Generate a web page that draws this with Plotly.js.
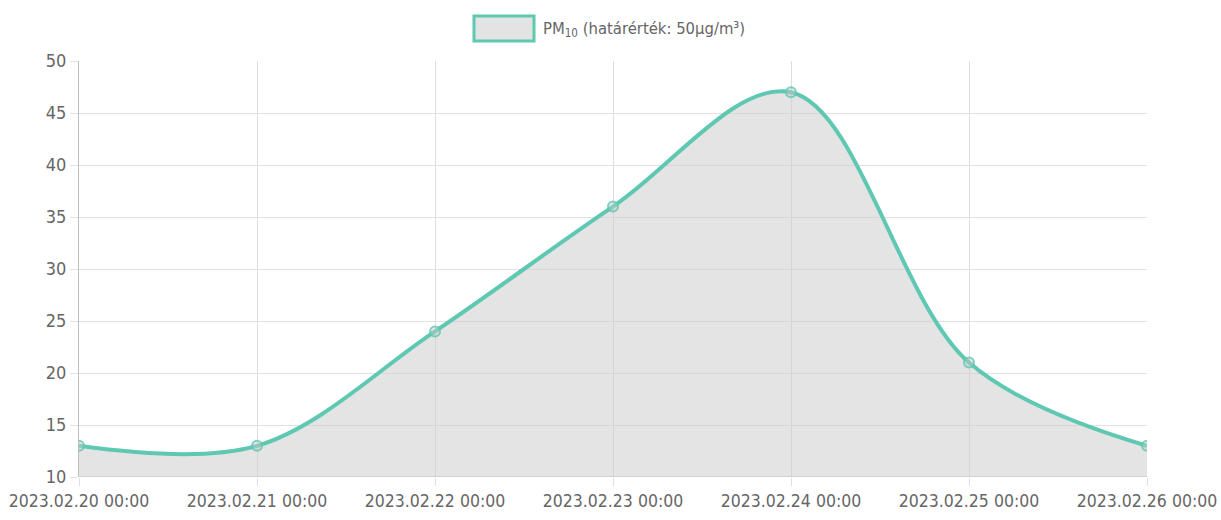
<!DOCTYPE html>
<html><head><meta charset="utf-8">
<script src="https://cdn.plot.ly/plotly-3.0.1.min.js"></script>
<style>html,body{margin:0;padding:0;background:#fff}#c{width:1221px;height:520px}</style>
</head><body><div id="c"></div>
<script>
const dates = ["2023-02-20 00:00","2023-02-21 00:00","2023-02-22 00:00","2023-02-23 00:00","2023-02-24 00:00","2023-02-25 00:00","2023-02-26 00:00"];
const pm10 = [13, 13, 24, 36, 47, 21, 13];
const seriesName = "PM<sub>10</sub> (határérték: 50µg/m³)";
const yTicks = [10, 15, 20, 25, 30, 35, 40, 45, 50];

const font = "'DejaVu Sans Condensed', 'Liberation Sans', sans-serif";
const teal = "#5ec8b2";

const trace = {
  x: dates, y: pm10, type: "scatter", mode: "lines+markers",
  name: seriesName,
  line: {color: teal, width: 4, shape: "spline", smoothing: 1.0},
  marker: {size: 10, color: "rgba(200,200,200,0.45)", line: {color: "rgba(94,200,178,0.8)", width: 2}},
  fill: "tozeroy", fillcolor: "rgba(205,205,205,0.55)",
  showlegend: false, hoverinfo: "x+y"
};

const layout = {
  width: 1221, height: 520,
  margin: {l: 79, r: 74, t: 61, b: 43},
  paper_bgcolor: "#fff", plot_bgcolor: "#fff",
  font: {family: font, size: 18, color: "#666"},
  showlegend: false,
  xaxis: {
    type: "date", range: [dates[0], dates[dates.length-1]],
    tickmode: "array", tickvals: dates,
    tickformat: "%Y.%m.%d %H:%M",
    ticklabeloverflow: "allow",
    showgrid: true, gridcolor: "#dedede", gridwidth: 1,
    ticks: "outside", ticklen: 8, tickcolor: "#dedede",
    showline: false, zeroline: false,
    tickfont: {family: font, size: 17.5, color: "#666"}
  },
  yaxis: {
    range: [10, 50], tickmode: "array", tickvals: yTicks,
    showgrid: true, gridcolor: "#e2e2e2", gridwidth: 1,
    ticks: "outside", ticklen: 8, tickcolor: "#e2e2e2",
    showline: true, linecolor: "#bdbdbd", linewidth: 1,
    zeroline: false, mirror: false,
    tickfont: {family: font, size: 18, color: "#666"}
  },
  shapes: [
    {type: "line", xref: "paper", yref: "y", x0: 0, x1: 1, y0: 10, y1: 10, line: {color: "#bdbdbd", width: 1}},
    {type: "rect", xref: "paper", yref: "paper",
     x0: (474-79)/1068, x1: (534-79)/1068, y0: (477-41)/416, y1: (477-16)/416,
     fillcolor: "#e3e3e3", line: {color: teal, width: 3}}
  ],
  annotations: [
    {xref: "paper", yref: "paper", x: (541-79)/1068, y: (477-29)/416,
     xanchor: "left", yanchor: "middle", showarrow: false,
     text: seriesName, font: {family: font, size: 16.5, color: "#666"}}
  ]
};

Plotly.newPlot("c", [trace], layout, {displayModeBar: false, responsive: false});
</script></body></html>
